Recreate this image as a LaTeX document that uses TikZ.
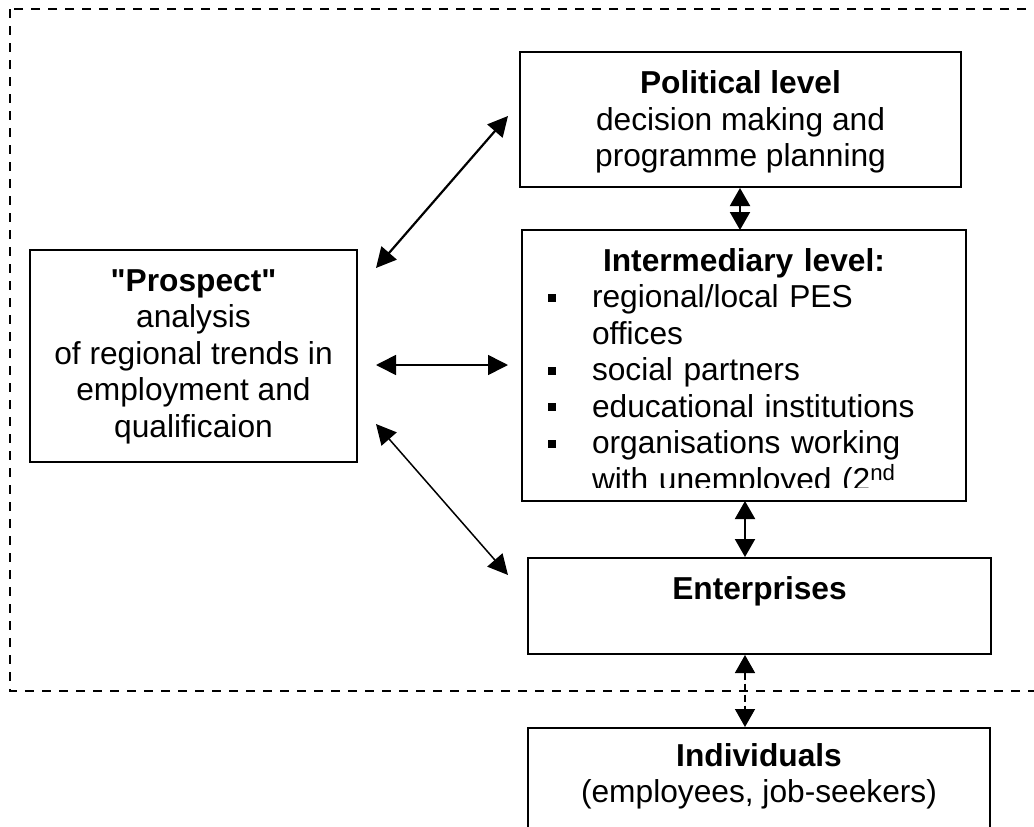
\documentclass[tikz,border=0pt]{standalone}
\usepackage{fontspec}
\setmainfont{Liberation Sans}
\usetikzlibrary{arrows.meta}
\newcommand{\sqbullet}{\rule[6pt]{8pt}{8pt}}
\begin{document}
\begin{tikzpicture}[x=1pt,y=-1pt,
  box/.style={draw=black, line width=2pt, inner sep=0pt, anchor=north west,
    font=\fontsize{31.7}{36.5}\selectfont},
  dbl/.style={arrows={Triangle[length=20pt,width=20pt]-Triangle[length=20pt,width=20pt]}},
  vdbl/.style={arrows={Triangle[length=18pt,width=20pt]-Triangle[length=18pt,width=20pt]}},
  frame/.style={draw=black, line width=2pt, dash pattern=on 9pt off 8pt}]
\clip (0,0) rectangle (1034,827);
\fill[white] (0,0) rectangle (1034,827);

% dashed frame
\draw[frame] (10,9) rectangle (1060,691);

% boxes
\node[box, minimum width=441pt, minimum height=135pt, align=center] (pol) at (519,51)
  {\rule{0pt}{41pt}\textbf{Political level}\\decision making and\\programme planning\rule[-20pt]{0pt}{20pt}};

\node[box, minimum width=327pt, minimum height=212pt, align=center] (pros) at (29,249)
  {\rule{0pt}{41pt}\textbf{\textquotedbl Prospect\textquotedbl}\\analysis\\of regional trends in\\employment and\\qualificaion\rule[-25pt]{0pt}{25pt}};

\begin{scope}
\clip (0,0) rectangle (1034,487);
\node[box, draw=none, minimum width=442pt, minimum height=269pt, text width=442pt, align=left] (int) at (522,230)
  {\noindent\makebox[442pt][c]{\rule{0pt}{40pt}\textbf{Intermediary level:}}\\
   \hspace*{25pt}\sqbullet\hspace*{36pt}regional/local PES\\
   \hspace*{69pt}offices\\
   \hspace*{25pt}\sqbullet\hspace*{36pt}social partners\\
   \hspace*{25pt}\sqbullet\hspace*{36pt}educational institutions\\
   \hspace*{25pt}\sqbullet\hspace*{36pt}organisations working\\
   \hspace*{69pt}with unemployed (2\textsuperscript{nd}\rule[-10pt]{0pt}{10pt}};
\end{scope}
\draw[line width=2pt] (int.north west) rectangle (int.south east);

\node[box, minimum width=463pt, minimum height=96pt, align=center] (ent) at (527,557)
  {\rule{0pt}{41pt}\textbf{Enterprises}\rule[-55pt]{0pt}{55pt}};

\node[box, minimum width=462pt, minimum height=117.5pt, align=center] (ind) at (527,727)
  {\rule{0pt}{38pt}\textbf{Individuals}\\(employees, job-seekers)\rule[-43pt]{0pt}{43pt}};

% arrow end points
\coordinate (a1) at (376,268);
\coordinate (a2) at (508,116);
\coordinate (b1) at (376,365);
\coordinate (b2) at (508,365);
\coordinate (c1) at (376,424);
\coordinate (c2) at (508,575);
\coordinate (v1) at (740,0);
\coordinate (v2) at (745,0);

% connectors
\draw[dbl, line width=2.2pt] (a1) -- (a2);
\draw[dbl, line width=1.6pt] (b1) -- (b2);
\draw[dbl, line width=1.5pt] (c1) -- (c2);
\draw[vdbl, line width=2pt] (pol.south -| v1) -- (int.north -| v1);
\draw[vdbl, line width=2pt] (int.south -| v2) -- (ent.north -| v2);
\draw[vdbl, line width=1.5pt, dash pattern=on 7pt off 4pt] (ent.south -| v2) -- (ind.north -| v2);
\end{tikzpicture}
\end{document}
